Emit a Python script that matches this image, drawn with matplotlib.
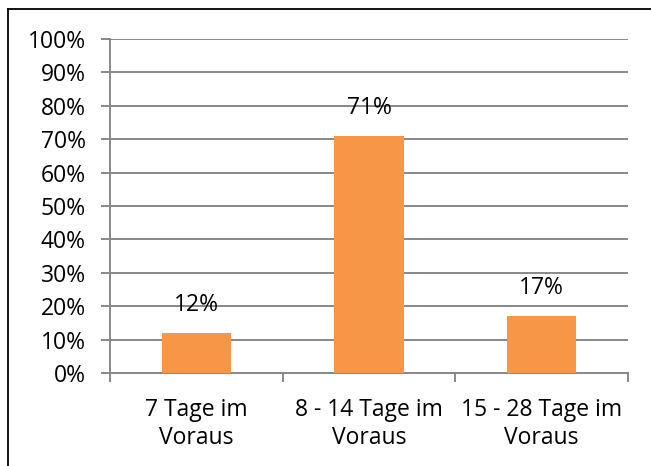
import matplotlib.pyplot as plt
from matplotlib.lines import Line2D

categories = ["7 Tage im\nVoraus", "8 - 14 Tage im\nVoraus", "15 - 28 Tage im\nVoraus"]
values = [12, 71, 17]
yticks = [0, 10, 20, 30, 40, 50, 60, 70, 80, 90, 100]

plt.rcParams['font.family'] = ['Open Sans', 'DejaVu Sans']
grid_col = '#888888'
fs = 16.5

fig = plt.figure(figsize=(6.51, 4.66), dpi=100)
ax = fig.add_axes([110/651, 1-373/466, 518/651, 334/466])

x = range(len(values))
bars = ax.bar(x, values, width=0.4, color='#F79646', zorder=3)

for i, v in enumerate(values):
    ax.annotate(f"{v}%", (i, v), xytext=(0, 20), textcoords='offset points',
                ha='center', va='center', fontsize=fs, color='black')

ax.set_ylim(0, 100)
ax.set_xlim(-0.5, 2.5)
ax.set_yticks(yticks)
ax.set_yticklabels([f"{t}%" for t in yticks], fontsize=fs)
ax.yaxis.grid(True, color=grid_col, linewidth=1.4, zorder=0)
ax.set_axisbelow(True)

# category ticks sit at the boundaries, labels centered
ax.set_xticks([-0.5, 0.5, 1.5, 2.5])
ax.set_xticklabels([])
ax.set_xticks(list(x), minor=True)
ax.set_xticklabels(categories, minor=True, fontsize=fs, linespacing=1.25)
ax.tick_params(axis='x', which='major', length=6.5, color=grid_col, width=1.4)
ax.tick_params(axis='x', which='minor', length=0, pad=18)
ax.tick_params(axis='y', length=6.5, color=grid_col, width=1.4, pad=11)

for s in ['top', 'right']:
    ax.spines[s].set_visible(False)
for s in ['left', 'bottom']:
    ax.spines[s].set_color(grid_col)
    ax.spines[s].set_linewidth(1.4)

# outer frame (only left and top visible in the crop)
fig.add_artist(Line2D([8/651, 8/651], [0, 1-9/466], color='black', lw=1.3, transform=fig.transFigure))
fig.add_artist(Line2D([8/651, 1], [1-9/466, 1-9/466], color='black', lw=1.3, transform=fig.transFigure))

fig.savefig("out.png", dpi=100)
